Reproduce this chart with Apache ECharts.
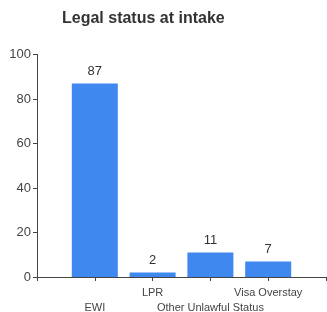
<!DOCTYPE html>
<html>
<head>
<meta charset="utf-8">
<script src="https://cdn.jsdelivr.net/npm/echarts@6/dist/echarts.min.js"></script>
<style>
  html, body { margin: 0; padding: 0; background: #fff; }
</style>
</head>
<body>
<div id="legalChart" style="width: 327px;height: 312px"></div>
<script>
  // categories and counts
  const categories = ['EWI', 'LPR', 'Other Unlawful Status', 'Visa Overstay'];
  const counts = [87, 2, 11, 7];
  const yTicks = [0, 20, 40, 60, 80, 100];

  // empty slot at each end so the bars sit on the inner ticks
  const axisData = [''].concat(categories, ['']);
  const barData = ['-'].concat(counts, ['-']);

  let chart = echarts.init(document.getElementById('legalChart'));

  let option = {
    animation: false,
    textStyle: { fontFamily: 'Liberation Sans, Arial, sans-serif' },
    title: {
      text: 'Legal status at intake',
      left: 57,
      top: 6,
      textStyle: { fontSize: 16, fontWeight: 'bold', color: '#333', fontFamily: 'Liberation Sans, Arial, sans-serif' }
    },
    grid: { left: 37, right: 1, top: 54.5, bottom: 35, containLabel: false, outerBoundsMode: 'none' },
    xAxis: {
      type: 'category',
      data: axisData,
      boundaryGap: false,
      axisLine: { lineStyle: { color: '#444', width: 1 } },
      axisTick: { show: true, length: 4, interval: 0, lineStyle: { color: '#444' } },
      axisLabel: {
        interval: 0,
        hideOverlap: false,
        color: '#444',
        fontSize: 11,
        margin: 8,
        lineHeight: 15,
        formatter: function (value, index) {
          return index % 2 === 1 ? '\n' + value : value;
        }
      },
      splitLine: { show: false }
    },
    yAxis: {
      type: 'value',
      min: yTicks[0],
      max: yTicks[yTicks.length - 1],
      interval: yTicks[1] - yTicks[0],
      axisLine: { show: true, lineStyle: { color: '#444', width: 1 } },
      axisTick: { show: true, length: 4, lineStyle: { color: '#444' } },
      axisLabel: { color: '#444', fontSize: 13, margin: 6 },
      splitLine: { show: false }
    },
    series: [
      {
        type: 'bar',
        data: barData,
        barWidth: 46,
        itemStyle: { color: '#3f88f0' },
        label: {
          show: true,
          position: 'top',
          distance: 6,
          color: '#333',
          fontSize: 13
        }
      }
    ]
  };

  chart.setOption(option);
</script>
</body>
</html>
